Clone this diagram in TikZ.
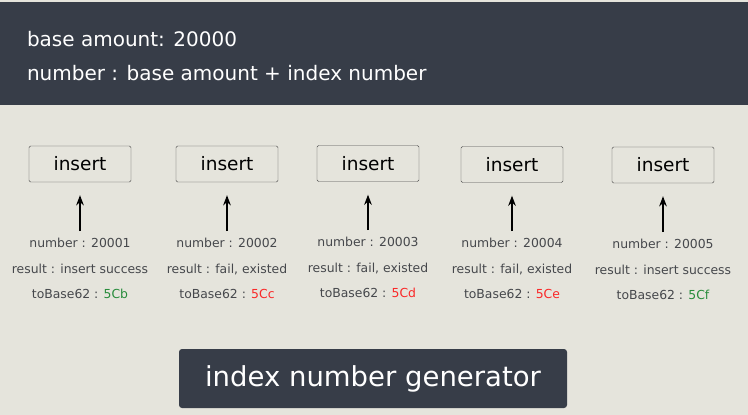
\documentclass[tikz,border=0pt]{standalone}
\usepackage{fontspec}
\setmainfont{DejaVu Sans}
\usepackage{xcolor}
\definecolor{slate}{RGB}{55,61,72}
\definecolor{paper}{RGB}{229,228,220}
\definecolor{okgreen}{RGB}{40,140,60}
\definecolor{failred}{RGB}{250,40,40}
\definecolor{infogray}{RGB}{70,72,76}
\usetikzlibrary{arrows.meta, positioning}

\begin{document}
\begin{tikzpicture}[
    x=1pt, y=-1pt,
    >=Stealth,
    headtext/.style={text=white, anchor=west, font=\fontsize{20}{24}\selectfont},
    insertbox/.style={draw=black!70, rectangle, rounded corners=1.5pt, fill=paper, minimum width=102pt, minimum height=36pt, font=\fontsize{18.5}{22}\selectfont},
    infotext/.style={align=center, text=infogray, font=\fontsize{12.4}{25.5}\selectfont, inner sep=0pt},
    genbox/.style={rectangle, rounded corners=3pt, fill=slate, text=white, minimum width=388pt, minimum height=59pt, font=\fontsize{27.5}{30}\selectfont},
    uparrow/.style={->, line width=1.6pt, shorten >=13pt, shorten <=7pt}
  ]

  \useasboundingbox (0,0) rectangle (748,415);
  \fill[paper] (0,0) rectangle (748,415);
  \fill[slate] (0,2) rectangle (748,105);

  \node (base) [headtext] at (23.5,39.5) {base amount: 20000};
  \node (formula) [headtext] at (23.5,73) {number : base amount + index number};

  \node (ins1) [insertbox] at (80,164) {insert};
  \node (ins2) [insertbox] at (227,164) {insert};
  \node (ins3) [insertbox] at (368,163.5) {insert};
  \node (ins4) [insertbox] at (512,164.5) {insert};
  \node (ins5) [insertbox] at (663,165) {insert};

  \node (info1) [infotext, anchor=north] at (80,238) {number : 20001\\result : insert success\\toBase62 : \textcolor{okgreen}{5Cb}};
  \node (info2) [infotext, anchor=north] at (227,238) {number : 20002\\result : fail, existed\\toBase62 : \textcolor{failred}{5Cc}};
  \node (info3) [infotext, anchor=north] at (368,237) {number : 20003\\result : fail, existed\\toBase62 : \textcolor{failred}{5Cd}};
  \node (info4) [infotext, anchor=north] at (512,238) {number : 20004\\result : fail, existed\\toBase62 : \textcolor{failred}{5Ce}};
  \node (info5) [infotext, anchor=north] at (663,239) {number : 20005\\result : insert success\\toBase62 : \textcolor{okgreen}{5Cf}};

  \draw[uparrow] (info1.north) -- (ins1.south);
  \draw[uparrow] (info2.north) -- (ins2.south);
  \draw[uparrow] (info3.north) -- (ins3.south);
  \draw[uparrow] (info4.north) -- (ins4.south);
  \draw[uparrow] (info5.north) -- (ins5.south);

  \node (gen) [genbox] at (373,378.5) {index number generator};

\end{tikzpicture}
\end{document}
